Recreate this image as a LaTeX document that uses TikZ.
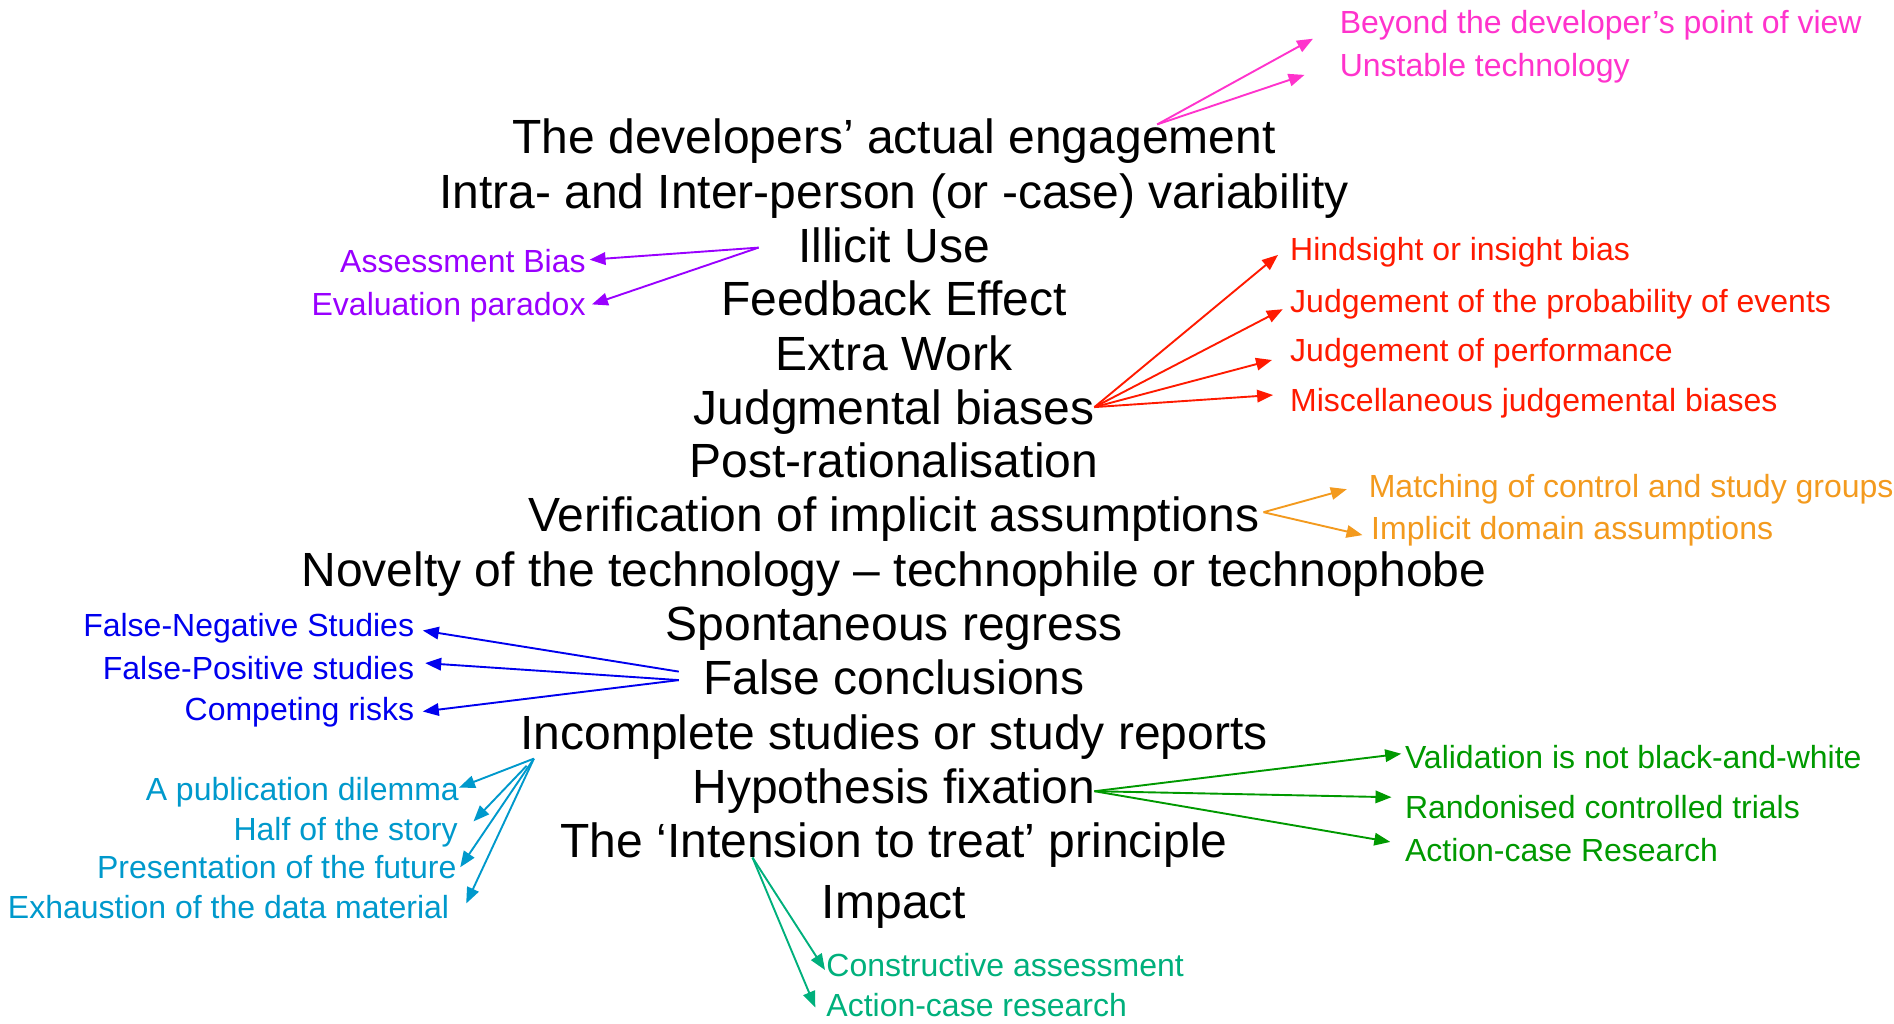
\documentclass[tikz,border=0pt]{standalone}
\usepackage{fontspec}
\setmainfont{Liberation Sans}
\usetikzlibrary{arrows.meta,calc}
\definecolor{cpink}{HTML}{FF33CC}
\definecolor{cpurple}{HTML}{9900FF}
\definecolor{cred}{HTML}{FF1A00}
\definecolor{corange}{HTML}{F39A1E}
\definecolor{cblue}{HTML}{0000EE}
\definecolor{clblue}{HTML}{0099CC}
\definecolor{cgreen}{HTML}{009900}
\definecolor{cteal}{HTML}{00B07C}
\tikzset{
  mainlab/.style={anchor=base,inner sep=0pt,font=\fontsize{48}{48}\selectfont},
  sublab/.style={inner sep=0pt,font=\fontsize{32}{32}\selectfont},
  arr/.style={line width=1.9pt,-{Triangle[length=16pt,width=12.5pt]}},
}
\begin{document}
\begin{tikzpicture}[x=1pt,y=-1pt]
\useasboundingbox (0,0) rectangle (1894,1023);
% main column
\node[mainlab] (m1) at (894,153.5) {The developers’ actual engagement};
\node[mainlab] (m2) at (894,208) {Intra- and Inter-person (or -case) variability};
\node[mainlab] (m3) at (894,262) {Illicit Use};
\node[mainlab] (m4) at (894,315.5) {Feedback Effect};
\node[mainlab] (m5) at (894,370) {Extra Work};
\node[mainlab] (m6) at (894,424) {Judgmental biases};
\node[mainlab] (m7) at (894,477) {Post-rationalisation};
\node[mainlab] (m8) at (894,531.5) {Verification of implicit assumptions};
\node[mainlab] (m9) at (894,586) {Novelty of the technology – technophile or technophobe};
\node[mainlab] (m10) at (894,640) {Spontaneous regress};
\node[mainlab] (m11) at (894,694.5) {False conclusions};
\node[mainlab] (m12) at (894,749) {Incomplete studies or study reports};
\node[mainlab] (m13) at (894,803) {Hypothesis fixation};
\node[mainlab] (m14) at (894,857.5) {The ‘Intension to treat’ principle};
\node[mainlab] (m15) at (894,918) {Impact};
% pink
\node[sublab,anchor=base west,text=cpink] (p1) at (1339.6,33.2) {Beyond the developer’s point of view};
\node[sublab,anchor=base west,text=cpink] (p2) at (1339.6,76.7) {Unstable technology};
\coordinate (ps) at (1157.2,124.4);
\draw[arr,cpink] (ps) -- ($(p1.base west)+(-26.6,5.5)$);
\draw[arr,cpink] (ps) -- ($(p2.base west)+(-35.1,-1.8)$);
% purple
\node[sublab,anchor=base east,text=cpurple] (u1) at (585.8,272.4) {Assessment Bias};
\node[sublab,anchor=base east,text=cpurple] (u2) at (585.8,315.9) {Evaluation paradox};
\coordinate (us) at (758.6,247.6);
\draw[arr,cpurple] (us) -- ($(u1.base east)+(3.7,-12.7)$);
\draw[arr,cpurple] (us) -- ($(u2.base east)+(6.1,-11.5)$);
% red
\node[sublab,anchor=base west,text=cred] (r1) at (1290,260.3) {Hindsight or insight bias};
\node[sublab,anchor=base west,text=cred] (r2) at (1290,312.3) {Judgement of the probability of events};
\node[sublab,anchor=base west,text=cred] (r3) at (1290,361.8) {Judgement of performance};
\node[sublab,anchor=base west,text=cred] (r4) at (1290,411.3) {Miscellaneous judgemental biases};
\coordinate (rs) at (1094.4,407.1);
\draw[arr,cred] (rs) -- ($(r1.base west)+(-12,-5.4)$);
\draw[arr,cred] (rs) -- ($(r2.base west)+(-7.2,-3.1)$);
\draw[arr,cred] (rs) -- ($(r3.base west)+(-18,-1.8)$);
\draw[arr,cred] (rs) -- ($(r4.base west)+(-16.9,-16.3)$);
% orange
\node[sublab,anchor=base west,text=corange] (o1) at (1368.6,497.1) {Matching of control and study groups};
\node[sublab,anchor=base west,text=corange] (o2) at (1371,539.4) {Implicit domain assumptions};
\coordinate (os) at (1263.5,512.2);
\draw[arr,corange] (os) -- ($(o1.base west)+(-21.8,-7.9)$);
\draw[arr,corange] (os) -- ($(o2.base west)+(-8.5,-4.3)$);
% blue
\node[sublab,anchor=base east,text=cblue] (b1) at (414.3,636) {False-Negative Studies};
\node[sublab,anchor=base east,text=cblue] (b2) at (414.3,679.5) {False-Positive studies};
\node[sublab,anchor=base east,text=cblue] (b3) at (414.3,720.5) {Competing risks};
\coordinate (bs1) at (678.8,671.6);
\coordinate (bs2) at (678.8,680.1);
\draw[arr,cblue] (bs1) -- ($(b1.base east)+(8.5,-5.5)$);
\draw[arr,cblue] (bs2) -- ($(b2.base east)+(10.9,-16.4)$);
\draw[arr,cblue] (bs2) -- ($(b3.base east)+(8.5,-9)$);
% light blue
\node[sublab,anchor=base east,text=clblue] (l1) at (459,800.3) {A publication dilemma};
\node[sublab,anchor=base east,text=clblue] (l2) at (457.8,840.1) {Half of the story};
\node[sublab,anchor=base east,text=clblue] (l3) at (456.6,878.8) {Presentation of the future};
\node[sublab,anchor=base east,text=clblue] (l4) at (449.3,918.6) {Exhaustion of the data material};
\coordinate (ls1) at (533.9,758.6);
\coordinate (ls2) at (526.6,765.8);
\draw[arr,clblue] (ls1) -- ($(l1.base east)+(0,-12.7)$);
\draw[arr,clblue] (ls2) -- ($(l2.base east)+(15.7,-18.7)$);
\draw[arr,clblue] (ls1) -- ($(l3.base east)+(3.6,-11.5)$);
\draw[arr,clblue] (ls1) -- ($(l4.base east)+(16.9,-15.1)$);
% green
\node[sublab,anchor=base west,text=cgreen] (g1) at (1404.8,768.8) {Validation is not black-and-white};
\node[sublab,anchor=base west,text=cgreen] (g2) at (1404.8,818.4) {Randonised controlled trials};
\node[sublab,anchor=base west,text=cgreen] (g3) at (1404.8,861.9) {Action-case Research};
\coordinate (gs) at (1094.4,791.2);
\draw[arr,cgreen] (gs) -- ($(g1.base west)+(-3.6,-15.1)$);
\draw[arr,cgreen] (gs) -- ($(g2.base west)+(-13.3,-21.2)$);
\draw[arr,cgreen] (gs) -- ($(g3.base west)+(-14.5,-20)$);
% teal
\node[sublab,anchor=base west,text=cteal] (t1) at (826.2,976.8) {Constructive assessment};
\node[sublab,anchor=base west,text=cteal] (t2) at (826.2,1016.5) {Action-case research};
\coordinate (ts) at (752.5,857.6);
\draw[arr,cteal] (ts) -- ($(t1.base west)+(-1.2,-6.8)$);
\draw[arr,cteal] (ts) -- ($(t2.base west)+(-10.9,-9.1)$);
\end{tikzpicture}
\end{document}
